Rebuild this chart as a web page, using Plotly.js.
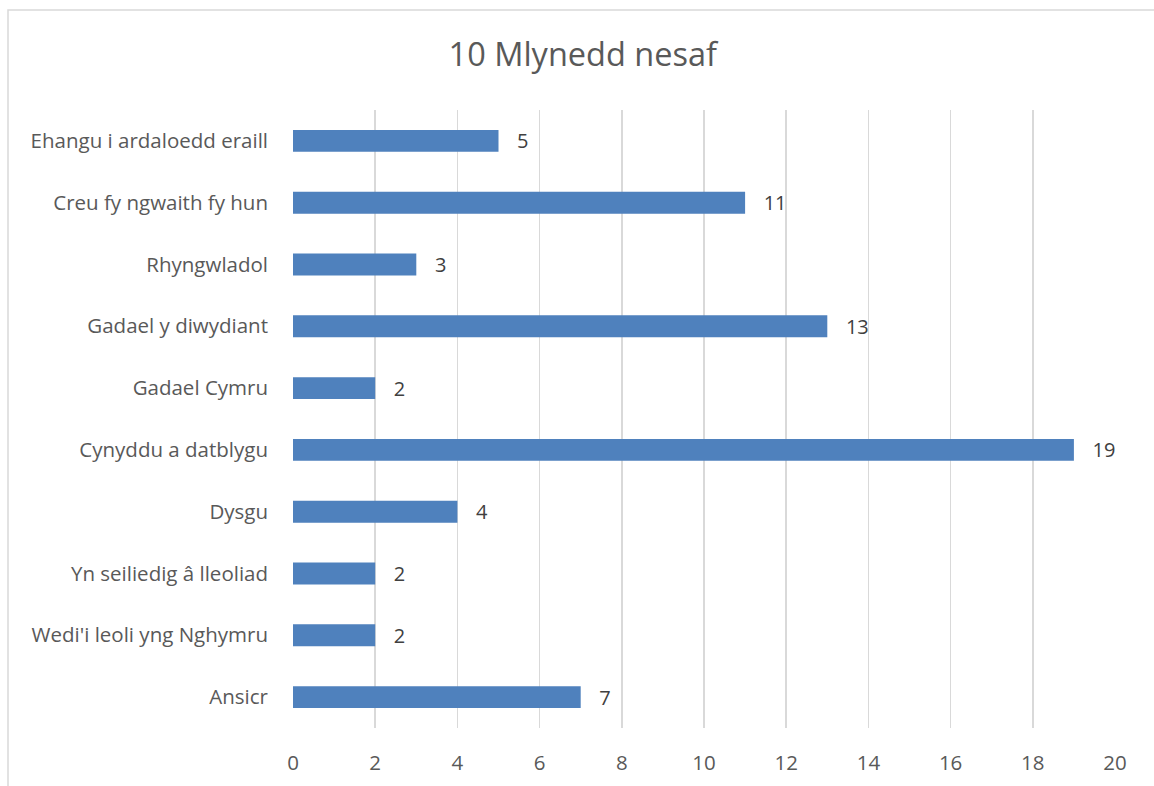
<!DOCTYPE html>
<html>
<head>
<meta charset="utf-8">
<script src="https://cdn.plot.ly/plotly-3.0.1.min.js"></script>
<style>
html,body{margin:0;padding:0;background:#fff;}
#chart{width:1154px;height:786px;}
</style>
</head>
<body>
<div id="chart"></div>
<script>
const categories = [
  "Ehangu i ardaloedd eraill",
  "Creu fy ngwaith fy hun",
  "Rhyngwladol",
  "Gadael y diwydiant",
  "Gadael Cymru",
  "Cynyddu a datblygu",
  "Dysgu",
  "Yn seiliedig â lleoliad",
  "Wedi'i leoli yng Nghymru",
  "Ansicr"
];
const values = [5, 11, 3, 13, 2, 19, 4, 2, 2, 7];
const xTicks = [0, 2, 4, 6, 8, 10, 12, 14, 16, 18, 20];
const chartTitle = "10 Mlynedd nesaf";

const FONT = "Open Sans, sans-serif";
const trace = {
  type: "bar",
  orientation: "h",
  y: categories,
  x: values,
  text: values.map(v => "\u00A0\u00A0\u00A0" + v),
  textposition: "outside",
  constraintext: "none",
  cliponaxis: false,
  textfont: {family: FONT, size: 20, color: "#404040"},
  marker: {color: "#4f81bd"},
  hoverinfo: "none"
};

const layout = {
  width: 1154,
  height: 786,
  margin: {l: 293, r: 39, t: 110, b: 58, pad: 0},
  paper_bgcolor: "#ffffff",
  plot_bgcolor: "#ffffff",
  showlegend: false,
  bargap: 0.645,
  title: {
    text: chartTitle,
    font: {family: FONT, size: 32.5, color: "#595959"},
    x: 0.505, xanchor: "center",
    y: 0.93, yanchor: "middle"
  },
  xaxis: {
    range: [0, 20],
    tickvals: xTicks,
    ticktext: xTicks.map(String),
    showgrid: true,
    gridcolor: "#d9d9d9",
    gridwidth: 1.5,
    zeroline: false,
    showline: false,
    ticks: "",
    tickfont: {family: FONT, size: 20.5, color: "#595959"},
    ticklabelstandoff: 20,
    fixedrange: true
  },
  yaxis: {
    autorange: "reversed",
    showgrid: false,
    zeroline: false,
    showline: false,
    ticks: "",
    ticklabelstandoff: 24,
    tickfont: {family: FONT, size: 20.5, color: "#595959"},
    fixedrange: true
  },
  shapes: [{
    type: "rect", xref: "paper", yref: "paper",
    x0: (8 - 293) / 822, x1: (1170 - 293) / 822,
    y0: (728 - 800) / 618, y1: (728 - 10) / 618,
    line: {color: "#d9d9d9", width: 1.5},
    fillcolor: "rgba(0,0,0,0)",
    layer: "below"
  }]
};

Plotly.newPlot("chart", [trace], layout, {displayModeBar: false, staticPlot: true});
</script>
</body>
</html>
